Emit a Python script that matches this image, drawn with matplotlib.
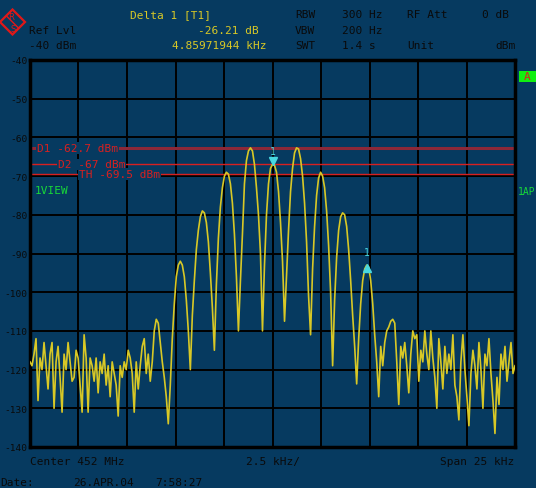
import numpy as np
import matplotlib
matplotlib.use("Agg")
import matplotlib.pyplot as plt
from matplotlib.patches import Polygon, Rectangle
from matplotlib.lines import Line2D

# trace values in dBm, sweep from -12.5 kHz to +12.5 kHz around 452 MHz
trace_dbm = [
    -118, -119, -116, -112, -128, -117, -120, -113, -119, -125,
    -116, -113, -130, -118, -114, -122, -131, -116, -120, -113,
    -118, -123, -122, -115, -117, -124, -131, -111, -117, -131,
    -117, -119, -123, -117, -126, -118, -121, -116, -124, -119,
    -127, -118, -121, -124, -132, -119, -122, -118, -120, -115,
    -117, -121, -131, -118, -125, -119, -114, -112, -121, -116,
    -123, -118, -110, -107, -108, -113, -118, -122, -127, -134,
    -124, -112, -103, -96, -93, -92, -93, -96, -102, -110,
    -120, -106, -97, -89, -84, -80.5, -79, -79.5, -82, -87,
    -95, -104, -115, -98, -86, -78, -73, -70, -69, -69.5,
    -72, -77, -85, -96, -110, -97, -85, -72, -66, -63.5,
    -62.7, -63.5, -67, -73, -80, -90, -110, -93, -80, -72,
    -68, -67, -67.2, -69, -74, -82, -92, -107.5, -96, -84,
    -74, -68, -64, -62.7, -63, -65.5, -70, -77, -87, -101,
    -111, -94, -83, -75, -70.5, -69, -70, -73, -79, -88,
    -100, -119, -102, -91, -84, -80.5, -79.5, -80, -83, -89,
    -97, -106, -114, -123.7, -112, -103, -97, -94, -93, -93.5,
    -97, -103, -111, -118, -127, -114, -119, -113, -110, -109,
    -107.5, -107, -108, -118, -129, -114, -117, -113, -119, -126,
    -116, -110, -112, -111, -123, -115, -118, -110, -116, -120,
    -110, -117, -122, -130, -112, -118, -125, -114, -121, -116,
    -120, -111, -124, -127, -133, -118, -111, -120, -127, -134.5,
    -121, -115, -119, -125, -113, -120, -130, -116, -119, -112,
    -121, -128, -136.5, -122, -129, -116, -120, -114, -123, -118,
    -113, -121, -119,
]
span_khz = 25.0
y_ticks = [-40, -50, -60, -70, -80, -90, -100, -110, -120, -130, -140]

# display lines
d1_level = -62.7
d2_level = -67
th_level = -69.5

# markers: (offset kHz, marker y, label y, symbol)
marker1 = (0.03, -66.0, -63.6, "v")
delta1 = (4.86, -93.8, -89.5, "^")

bg = "#063a60"
yellow = "#d8c826"
dark = "#0a0a0a"
red = "#d82020"
cyan = "#48d8e0"
green = "#18d838"

W, H = 536, 489
fig = plt.figure(figsize=(W / 100, H / 100), dpi=100, facecolor=bg)
ax = fig.add_axes([30 / W, 1 - 448 / H, 485 / W, 387 / H])
ax.set_facecolor(bg)

freq = np.linspace(-span_khz / 2, span_khz / 2, len(trace_dbm))

ax.set_xlim(-span_khz / 2, span_khz / 2)
ax.set_ylim(-140, -40)
ax.set_xticks(np.arange(-12.5, 12.6, 2.5))
ax.set_yticks(y_ticks)
ax.set_xticklabels([])
ax.set_yticklabels([str(v) for v in y_ticks], fontsize=6.8, color=dark,
                   family="DejaVu Sans Mono")
ax.tick_params(length=0, pad=2)
ax.grid(True, color="black", lw=1.4)
ax.set_axisbelow(True)
for s in ax.spines.values():
    s.set_color("black")
    s.set_linewidth(2.5)

ax.axhline(d1_level, color="#8c2838", lw=2.2, zorder=2)
ax.axhline(d2_level, color=red, lw=1.0, zorder=2)
ax.axhline(th_level, color=red, lw=1.0, zorder=2)

mono = dict(family="DejaVu Sans Mono", fontsize=8)
box = dict(facecolor=bg, edgecolor="none", pad=0.5)
ax.text(7 / 485, d1_level, "D1 -62.7 dBm", color=red, va="center",
        transform=ax.get_yaxis_transform(), bbox=box, zorder=3, **mono)
ax.text(28 / 485, d2_level, "D2 -67 dBm", color=red, va="center",
        transform=ax.get_yaxis_transform(), bbox=box, zorder=3, **mono)
ax.text(49 / 485, th_level, "TH -69.5 dBm", color=red, va="center",
        transform=ax.get_yaxis_transform(), bbox=box, zorder=3, **mono)
ax.text(5 / 485, (448 - 191) / 387, "1VIEW", color=green, va="center",
        transform=ax.transAxes, **mono)

ax.plot(freq, trace_dbm, color=yellow, lw=1.2, zorder=4)

for f, my, ly, sym in (marker1, delta1):
    ax.plot([f], [my], marker=sym, color=cyan, ms=6, mec=cyan, zorder=5)
    ax.text(f, ly, "1", color=cyan, ha="center", va="center", zorder=5,
            family="DejaVu Sans Mono", fontsize=7)


def ftext(x, y, s, color=dark, ha="left", size=8):
    fig.text(x / W, 1 - y / H, s, color=color, ha=ha, va="center",
             family="DejaVu Sans Mono", fontsize=size)


ftext(130, 15, "Delta 1 [T1]", yellow)
ftext(295, 15, "RBW")
ftext(342, 15, "300 Hz")
ftext(407, 15, "RF Att")
ftext(509, 15, "0 dB", ha="right")
ftext(29, 31, "Ref Lvl")
ftext(259, 31, "-26.21 dB", yellow, ha="right")
ftext(295, 31, "VBW")
ftext(342, 31, "200 Hz")
ftext(29, 46, "-40 dBm")
ftext(266, 46, "4.85971944 kHz", yellow, ha="right")
ftext(295, 46, "SWT")
ftext(342, 46, "1.4 s")
ftext(407, 46, "Unit")
ftext(516, 46, "dBm", ha="right")

ftext(30, 462, "Center 452 MHz")
ftext(246, 462, "2.5 kHz/")
ftext(514, 462, "Span 25 kHz", ha="right")
ftext(0, 483, "Date:")
ftext(73, 483, "26.APR.04")
ftext(155, 483, "7:58:27")

ftext(518, 192, "1AP", green, size=7)
fig.patches.append(Rectangle((519 / W, 1 - 83 / H), 17 / W, 11 / H,
                             transform=fig.transFigure, facecolor="#10f010",
                             edgecolor="none"))
ftext(527, 77.5, "A", red, ha="center")

# R&S logo diamond
cx, cy, r = 12.5, 23, 12.5
pts = [((cx - r) / W, 1 - cy / H), (cx / W, 1 - (cy - r) / H),
       ((cx + r) / W, 1 - cy / H), (cx / W, 1 - (cy + r) / H)]
logo_red = "#e01818"
fig.patches.append(Polygon(pts, closed=True, transform=fig.transFigure,
                           facecolor="none", edgecolor=logo_red, lw=1.6))
fig.lines.append(Line2D([(cx - 6) / W, (cx + 6) / W],
                        [1 - (cy - 6) / H, 1 - (cy + 6) / H],
                        transform=fig.transFigure, color=logo_red, lw=1.0))
fig.text((cx - 1) / W, 1 - (cy - 6) / H, "R", color=logo_red, ha="center",
         va="center", family="DejaVu Sans", fontsize=6)
fig.text((cx + 1) / W, 1 - (cy + 6) / H, "S", color=logo_red, ha="center",
         va="center", family="DejaVu Sans", fontsize=6)

fig.savefig("out.png", dpi=100, facecolor=bg)
